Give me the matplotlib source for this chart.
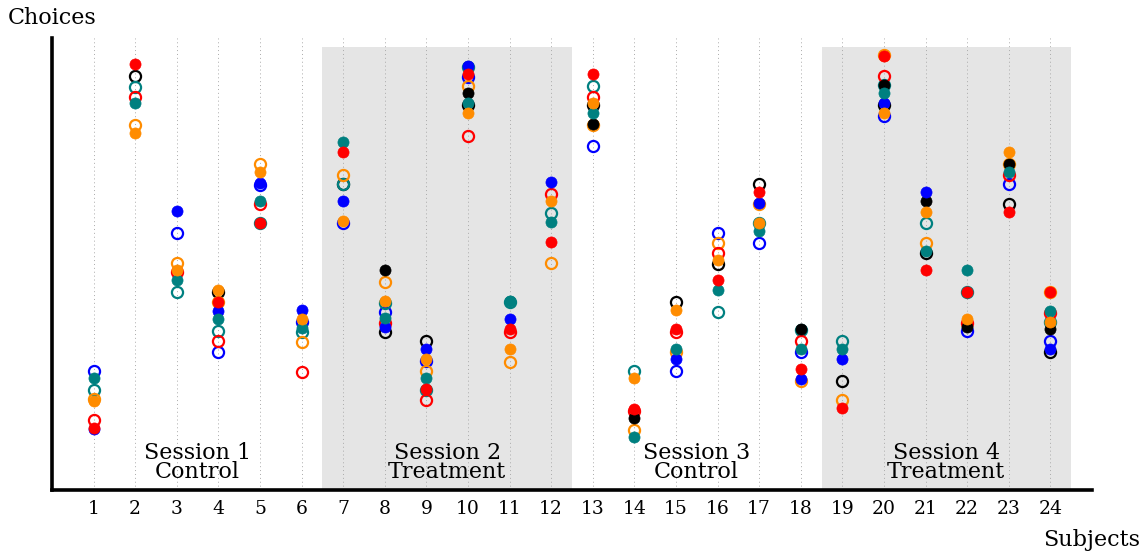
import numpy as np
import matplotlib
matplotlib.use("Agg")
import matplotlib.pyplot as plt

# =========================
# DATA
# =========================

nan = np.nan

subjects = list(range(1, 25))

sessions = ["Session 1\nControl", "Session 2\nTreatment",
            "Session 3\nControl", "Session 4\nTreatment"]

black_filled = [nan, nan, nan, nan, nan, nan, nan, 48.7, nan, 87.8, nan, nan,
                80.9, 15.9, nan, nan, nan, 35.6, nan, 89.6, 63.9, 36.0, 72.1, 35.6]
black_hollow = [nan, 91.6, nan, 43.7, nan, nan, 67.6, 35.0, 33.0, 85.2, nan, nan,
                85.2, nan, 41.7, 50.0, 67.7, nan, 24.1, 85.2, 52.4, nan, 63.2, 30.6]

blue_filled = [13.6, nan, 61.7, 39.7, 68.0, 39.8, 63.9, 36.0, 31.1, 93.7, 37.8, 68.1,
               nan, nan, 28.9, nan, 63.6, 24.5, 28.9, 85.6, 65.9, nan, nan, 31.1]
blue_hollow = [26.3, nan, 56.8, 30.6, 67.5, 37.2, 59.0, 39.4, 28.6, 91.4, nan, nan,
               76.2, nan, 26.3, 56.8, 54.6, 30.6, nan, 82.8, nan, 35.2, 67.6, 33.0]

teal_filled = [24.8, 85.6, 46.5, 37.8, 63.9, 35.8, 76.9, 38.0, 24.7, 85.6, 41.9, 59.4,
               83.5, 11.7, 31.1, 44.2, 57.3, 31.1, 31.1, 87.9, 52.9, 48.7, 70.3, 39.7]
teal_hollow = [22.1, 89.2, 43.7, 35.2, 59.1, 35.0, 67.6, 41.4, 22.1, 93.5, 41.5, 61.2,
               89.4, 26.3, nan, 39.3, 59.1, 35.4, 33.0, 89.6, 59.1, 43.9, nan, 37.2]

orange_filled = [19.7, 78.9, 48.7, 44.2, 70.3, 37.8, 59.5, 41.9, 28.9, 83.3, 31.1, 63.9,
                 85.7, 24.7, 39.8, 50.9, 59.0, nan, nan, 83.3, 61.6, 37.8, 74.7, 37.2]
orange_hollow = [20.1, 80.8, 50.3, 41.7, 72.1, 32.8, 69.8, 46.0, 26.3, 89.4, 28.4, 50.2,
                 80.8, 13.3, 30.6, 54.6, 63.2, 24.2, 19.9, 96.2, 54.7, nan, 72.1, 43.9]

red_filled = [13.8, 94.2, nan, 41.5, 59.1, nan, 74.7, nan, 22.3, 92.0, 35.6, 54.9,
              92.0, 17.9, 35.6, 46.5, 65.9, 26.8, 18.1, 96.1, 48.7, 43.9, 61.6, 43.9]
red_hollow = [15.5, 87.0, 48.2, 33.0, 63.3, 26.2, nan, 37.0, 19.9, 78.4, 35.0, 65.5,
              87.0, 17.5, 35.0, 52.4, nan, 33.0, nan, 91.6, nan, 37.0, 69.8, 39.2]

# =========================
# STYLE
# =========================

plt.rcParams["font.family"] = ["DejaVu Serif"]

colors = {
    "black": "#000000",
    "blue": "#0000ff",
    "teal": "#008080",
    "orange": "#ff8c00",
    "red": "#ff0000",
}

hollow = [("black", black_hollow), ("blue", blue_hollow), ("teal", teal_hollow),
          ("orange", orange_hollow), ("red", red_hollow)]
filled = [("black", black_filled), ("blue", blue_filled), ("teal", teal_filled),
          ("orange", orange_filled), ("red", red_filled)]

# =========================
# FIGURE
# =========================

fig = plt.figure(figsize=(11.47, 5.53), dpi=100)
ax = fig.add_axes([0.0453, 0.1139, 0.9067, 0.8174])

# grey bands for treatment sessions
for start in [6.5, 18.5]:
    ax.axvspan(start, start + 6, ymin=0, ymax=0.98, color="#e5e5e5", lw=0, zorder=0)

for name, vals in hollow:
    ax.plot(subjects, vals, "o", ms=8, mfc="none", mec=colors[name], mew=1.6,
            ls="none", zorder=3)

for name, vals in filled:
    ax.plot(subjects, vals, "o", ms=8, mfc=colors[name], mec=colors[name], mew=0.5,
            ls="none", zorder=4)

# session labels
for i, label in enumerate(sessions):
    ax.text(3.5 + 6 * i, 1.5, label, ha="center", va="bottom",
            fontsize=16, linespacing=0.85, zorder=5)

ax.set_xlim(0, 25)
ax.set_ylim(0, 100)
ax.set_xticks(subjects)
ax.set_xticklabels([str(s) for s in subjects], fontsize=13.5)
ax.set_yticks([])
ax.tick_params(axis="x", length=0, pad=7)

ax.grid(axis="x", linestyle=(0, (1, 3)), color="#aaaaaa", linewidth=0.7, zorder=1)
ax.set_axisbelow(True)

for side in ["top", "right"]:
    ax.spines[side].set_visible(False)
for side in ["left", "bottom"]:
    ax.spines[side].set_linewidth(2.6)

fig.text(0.007, 0.967, "Choices", fontsize=16, ha="left", va="center")
fig.text(0.994, 0.024, "Subjects", fontsize=16, ha="right", va="center")

fig.savefig("out.png", dpi=100)
